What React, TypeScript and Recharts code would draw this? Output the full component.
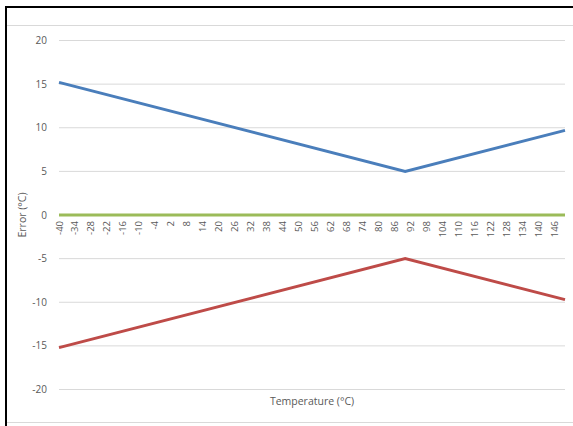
import { LineChart, Line, XAxis, YAxis, CartesianGrid } from 'recharts';

// temperatures where the lines bend (°C)
const temperatures = [-40, 90, 150];
const upperError = [15.2, 5, 9.7];
const lowerError = [-15.2, -5, -9.7];
const zeroError = [0, 0, 0];

const xTicks = [
  -40, -34, -28, -22, -16, -10, -4, 2, 8, 14, 20, 26, 32, 38, 44, 50,
  56, 62, 68, 74, 80, 86, 92, 98, 104, 110, 116, 122, 128, 134, 140, 146,
];
const yTicks = [-20, -15, -10, -5, 0, 5, 10, 15, 20];

const data = temperatures.map((t, i) => ({
  t,
  upper: upperError[i],
  lower: lowerError[i],
  zero: zeroError[i],
}));

const FONT = '"Open Sans", "Noto Sans", sans-serif';
const TEXT = '#595959';
const LABEL_TOP = 221;

function RotatedTick({ x, payload }: any) {
  return (
    <text
      x={x}
      y={LABEL_TOP}
      transform={`rotate(-90, ${x}, ${LABEL_TOP})`}
      textAnchor="end"
      dominantBaseline="central"
      fontSize={9.5}
      fontFamily={FONT}
      fill={TEXT}
    >
      {payload.value}
    </text>
  );
}

export default function App() {
  return (
    <div style={{ position: 'absolute', left: 0, top: 0, width: 573, height: 426, background: '#fff', overflow: 'hidden' }}>
      <div style={{ position: 'absolute', left: 5, top: 6, width: 568, height: 2, background: '#000' }} />
      <div style={{ position: 'absolute', left: 5, top: 6, width: 2, height: 420, background: '#000' }} />
      <div style={{ position: 'absolute', left: 7, top: 25, width: 566, height: 1, background: '#d9d9d9' }} />
      <div style={{ position: 'absolute', left: 7, top: 422, width: 566, height: 1, background: '#d9d9d9' }} />
      <div style={{ position: 'absolute', left: 0, top: 0 }}>
        <LineChart width={573} height={426} data={data} margin={{ top: 40.5, right: 8, bottom: 0, left: 0 }}>
          <CartesianGrid vertical={false} stroke="#d9d9d9" />
          <XAxis
            dataKey="t"
            type="number"
            domain={[-40, 150]}
            ticks={xTicks}
            interval={0}
            axisLine={false}
            tickLine={false}
            height={36.5}
            tick={<RotatedTick />}
            label={{ value: 'Temperature (°C)', position: 'insideTop', offset: 8, fontSize: 10.5, fontFamily: FONT, fill: TEXT }}
          />
          <YAxis
            domain={[-20, 20]}
            ticks={yTicks}
            interval={0}
            width={59}
            axisLine={false}
            tickLine={false}
            tickSize={0}
            tickMargin={12}
            tick={{ fontSize: 10, fontFamily: FONT, fill: TEXT }}
            label={{ value: 'Error (°C)', angle: -90, position: 'insideLeft', offset: 22, fontSize: 10.5, fontFamily: FONT, fill: TEXT, style: { textAnchor: 'middle' } }}
          />
          <Line dataKey="zero" stroke="#9bbb59" strokeWidth={3} dot={false} isAnimationActive={false} />
          <Line dataKey="upper" stroke="#4a7ebb" strokeWidth={3} dot={false} isAnimationActive={false} />
          <Line dataKey="lower" stroke="#be4b48" strokeWidth={3} dot={false} isAnimationActive={false} />
        </LineChart>
      </div>
    </div>
  );
}
